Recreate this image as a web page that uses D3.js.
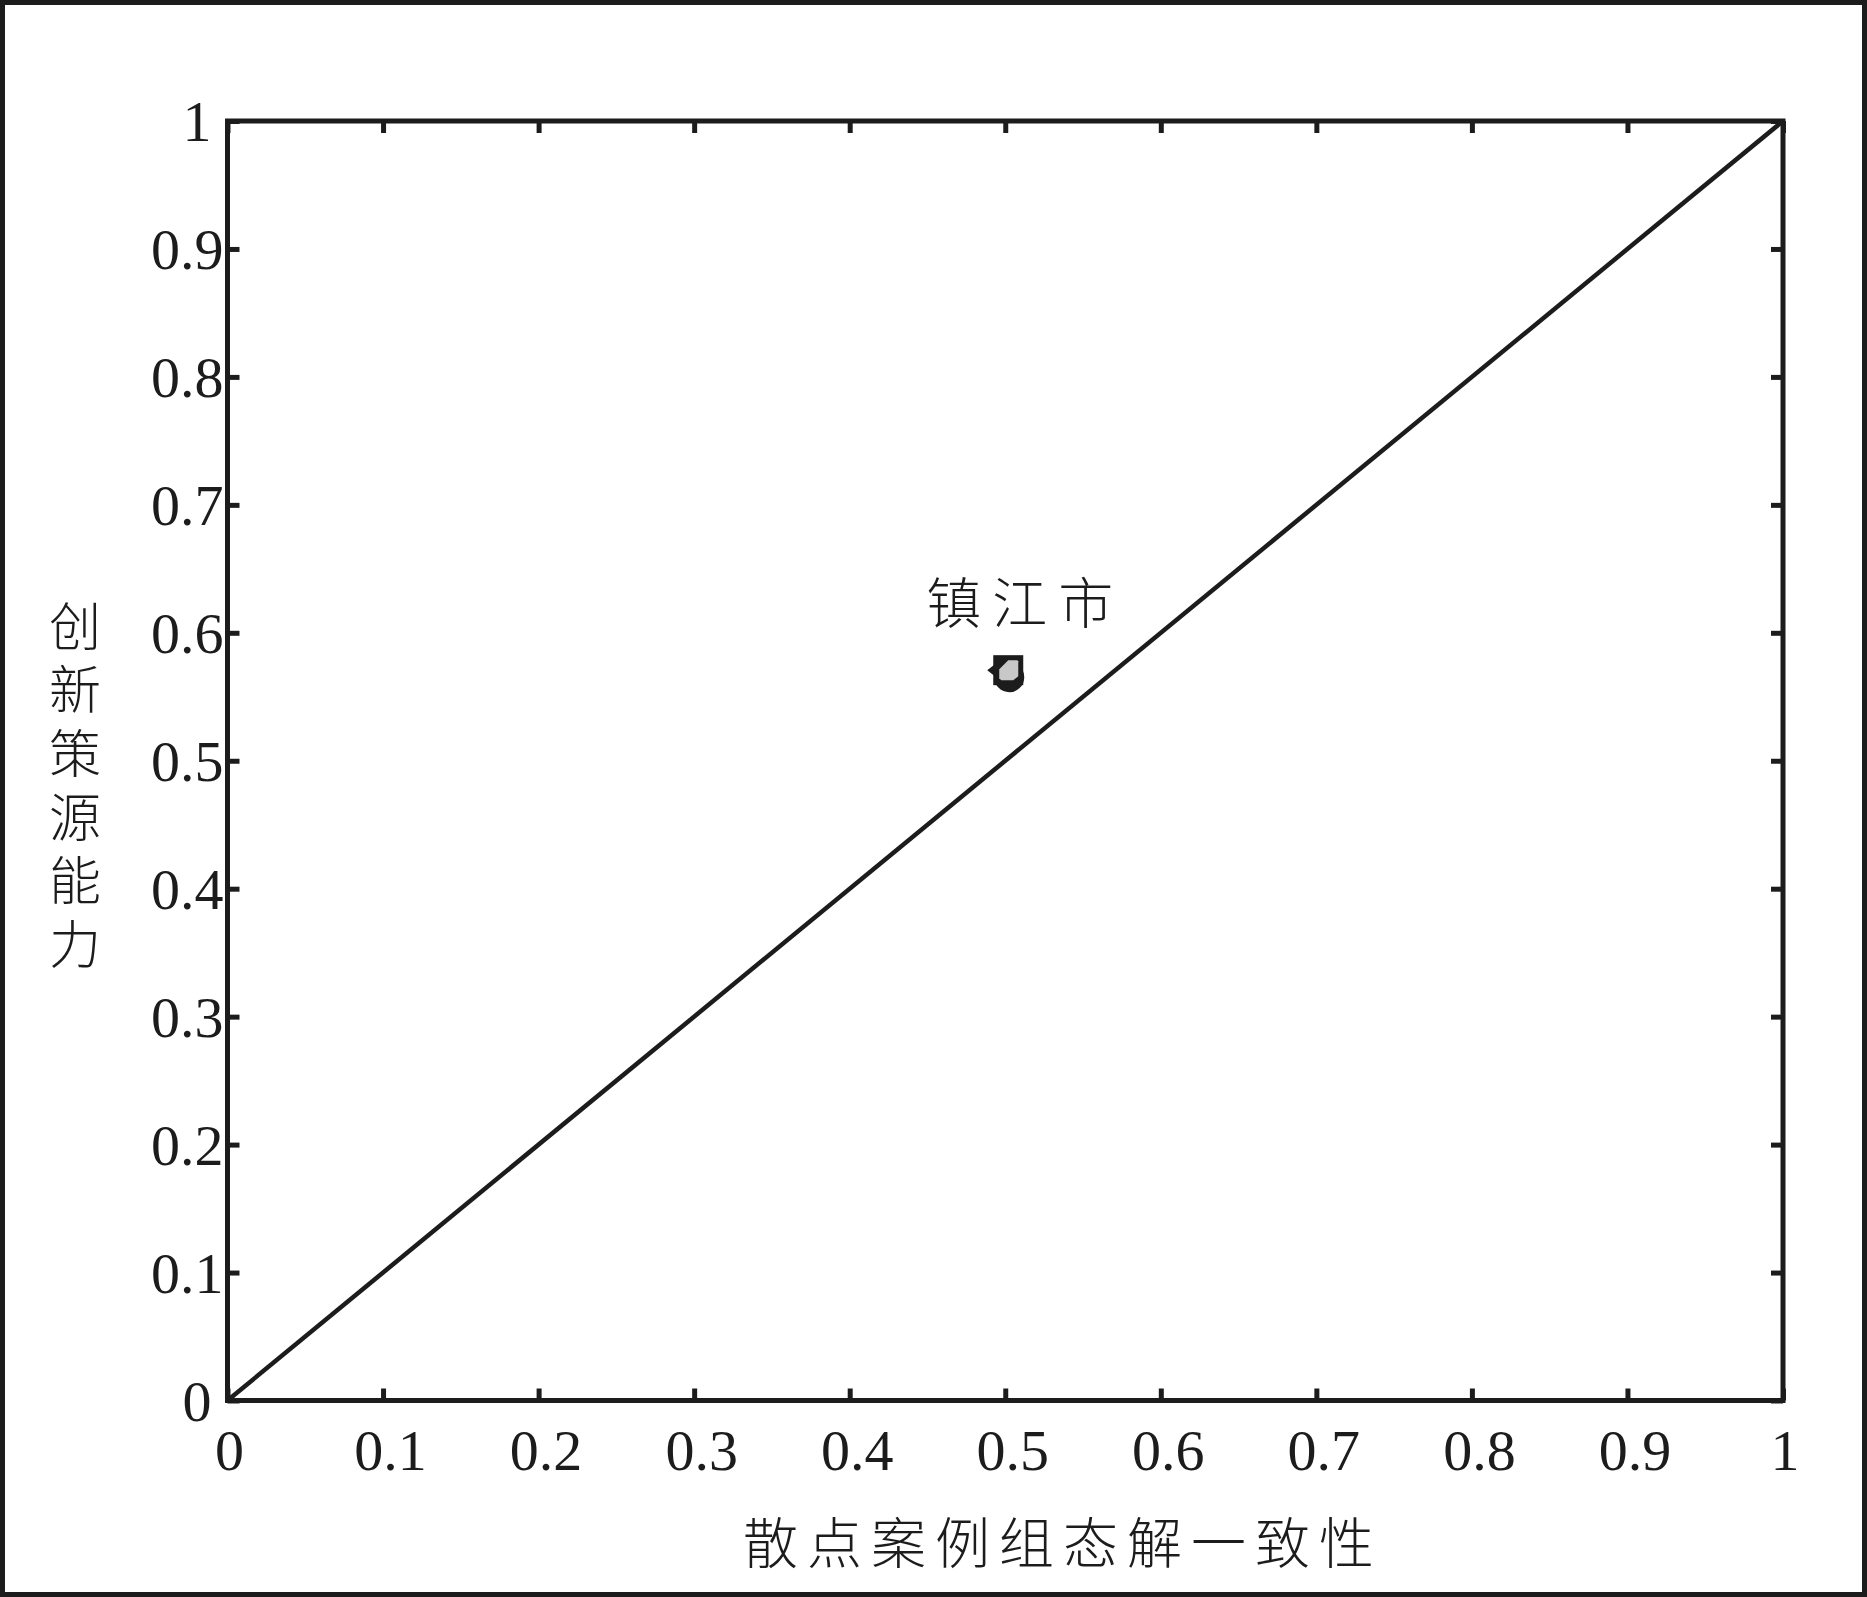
<!DOCTYPE html>
<html>
<head>
<meta charset="utf-8">
<script src="https://cdn.jsdelivr.net/npm/d3@7"></script>
<style>
  html, body { margin: 0; padding: 0; background: #fff; }
  svg { display: block; }
</style>
</head>
<body>
<svg id="chart" width="1867" height="1597"></svg>
<script>
// ---- data ----
const xTickValues = [0, 0.1, 0.2, 0.3, 0.4, 0.5, 0.6, 0.7, 0.8, 0.9, 1];
const xTickLabels = ["0", "0.1", "0.2", "0.3", "0.4", "0.5", "0.6", "0.7", "0.8", "0.9", "1"];
const yTickValues = [0, 0.1, 0.2, 0.3, 0.4, 0.5, 0.6, 0.7, 0.8, 0.9, 1];
const yTickLabels = ["0", "0.1", "0.2", "0.3", "0.4", "0.5", "0.6", "0.7", "0.8", "0.9", "1"];
const diagonalX = [0, 1];
const diagonalY = [0, 1];
const pointNames = ["镇江市"];
const pointX = [0.50];
const pointY = [0.57];
const xTitle = "散点案例组态解一致性";
const yTitle = "创新策源能力";

// ---- layout ----
const W = 1867, H = 1597;
const ink = "#1c1c1c";
const serif = "'Liberation Serif', 'Times New Roman', serif";
const cjk = "'Noto Sans CJK SC', sans-serif";
const cjkWeight = 300;

const svg = d3.select("#chart");
svg.append("rect").attr("width", W).attr("height", H).attr("fill", "#fff");
// outer frame
svg.append("rect").attr("x", 2.5).attr("y", 2.5).attr("width", W - 5).attr("height", H - 5)
  .attr("fill", "none").attr("stroke", ink).attr("stroke-width", 5);

const x = d3.scaleLinear().domain([0, 1]).range([227.5, 1783]);
const y = d3.scaleLinear().domain([0, 1]).range([1400.5, 121]);

const tickLen = 12;
const fmtX = d => xTickLabels[xTickValues.indexOf(d)];
const fmtY = d => yTickLabels[yTickValues.indexOf(d)];

function styleAxis(g) {
  g.select(".domain").remove();
  g.selectAll(".tick line").attr("stroke", ink).attr("stroke-width", 5);
  g.selectAll(".tick text").attr("fill", ink).attr("font-family", serif).attr("font-size", 58);
}

// bottom axis
const gB = svg.append("g").attr("transform", `translate(0,${y(0)})`)
  .call(d3.axisBottom(x).tickValues(xTickValues).tickFormat(fmtX).tickSize(-tickLen).tickPadding(0));
styleAxis(gB);
gB.selectAll(".tick text").attr("y", 69).attr("dy", 0)
  .attr("dx", d => fmtX(d).includes(".") ? 7 : 1.5);

// left axis
const gL = svg.append("g").attr("transform", `translate(${x(0)},0)`)
  .call(d3.axisLeft(y).tickValues(yTickValues).tickFormat(fmtY).tickSize(-tickLen).tickPadding(0));
styleAxis(gL);
gL.selectAll(".tick text").attr("dy", 19.5)
  .attr("x", d => fmtY(d).includes(".") ? -4 : -16);

// top axis (ticks only)
const gT = svg.append("g").attr("transform", `translate(0,${y(1)})`)
  .call(d3.axisTop(x).tickValues(xTickValues).tickFormat("").tickSize(-tickLen));
styleAxis(gT);

// right axis (ticks only)
const gR = svg.append("g").attr("transform", `translate(${x(1)},0)`)
  .call(d3.axisRight(y).tickValues(yTickValues).tickFormat("").tickSize(-tickLen));
styleAxis(gR);

// plot frame
svg.append("rect").attr("x", x(0)).attr("y", y(1))
  .attr("width", x(1) - x(0)).attr("height", y(0) - y(1))
  .attr("fill", "none").attr("stroke", ink).attr("stroke-width", 5);

// diagonal line
const diag = diagonalX.map((v, i) => [v, diagonalY[i]]);
svg.append("path").datum(diag)
  .attr("d", d3.line().x(d => x(d[0])).y(d => y(d[1])))
  .attr("fill", "none").attr("stroke", ink).attr("stroke-width", 4.5);

// point marker (composite overlapping symbols) + label
const pts = pointNames.map((n, i) => ({ name: n, x: pointX[i], y: pointY[i] }));
const pg = svg.append("g").selectAll("g").data(pts).join("g")
  .attr("transform", d => `translate(${x(d.x)},${y(d.y)})`);
pg.append("rect").attr("x", -12).attr("y", -16).attr("width", 30).attr("height", 30).attr("fill", ink);
pg.append("circle").attr("cx", 4).attr("cy", 6).attr("r", 15).attr("fill", ink);
pg.append("path").attr("d", "M-18,-1 L-4,-12 L-4,10 Z").attr("fill", ink);
pg.append("path")
  .attr("d", "M-1,-7 L3,-11 L12,-11 L13,-10 L13,5 L8,9 L-4,9 L-6,7 L-6,-2 Z")
  .attr("fill", "#c8c8c8");
pg.append("text")
  .attr("x", 20).attr("y", -48)
  .attr("text-anchor", "middle")
  .attr("font-family", cjk).attr("font-weight", cjkWeight).attr("font-size", 55)
  .attr("letter-spacing", 11)
  .attr("fill", ink)
  .text(d => d.name);

// axis titles
svg.append("text")
  .attr("x", 1063).attr("y", 1563)
  .attr("text-anchor", "middle")
  .attr("font-family", cjk).attr("font-weight", cjkWeight).attr("font-size", 55)
  .attr("letter-spacing", 9)
  .attr("fill", ink)
  .text(xTitle);

svg.append("text")
  .attr("x", 75).attr("y", 600)
  .style("writing-mode", "vertical-rl")
  .style("text-orientation", "upright")
  .attr("font-family", cjk).attr("font-weight", cjkWeight).attr("font-size", 52)
  .attr("letter-spacing", 11.6)
  .attr("fill", ink)
  .text(yTitle);
</script>
</body>
</html>
